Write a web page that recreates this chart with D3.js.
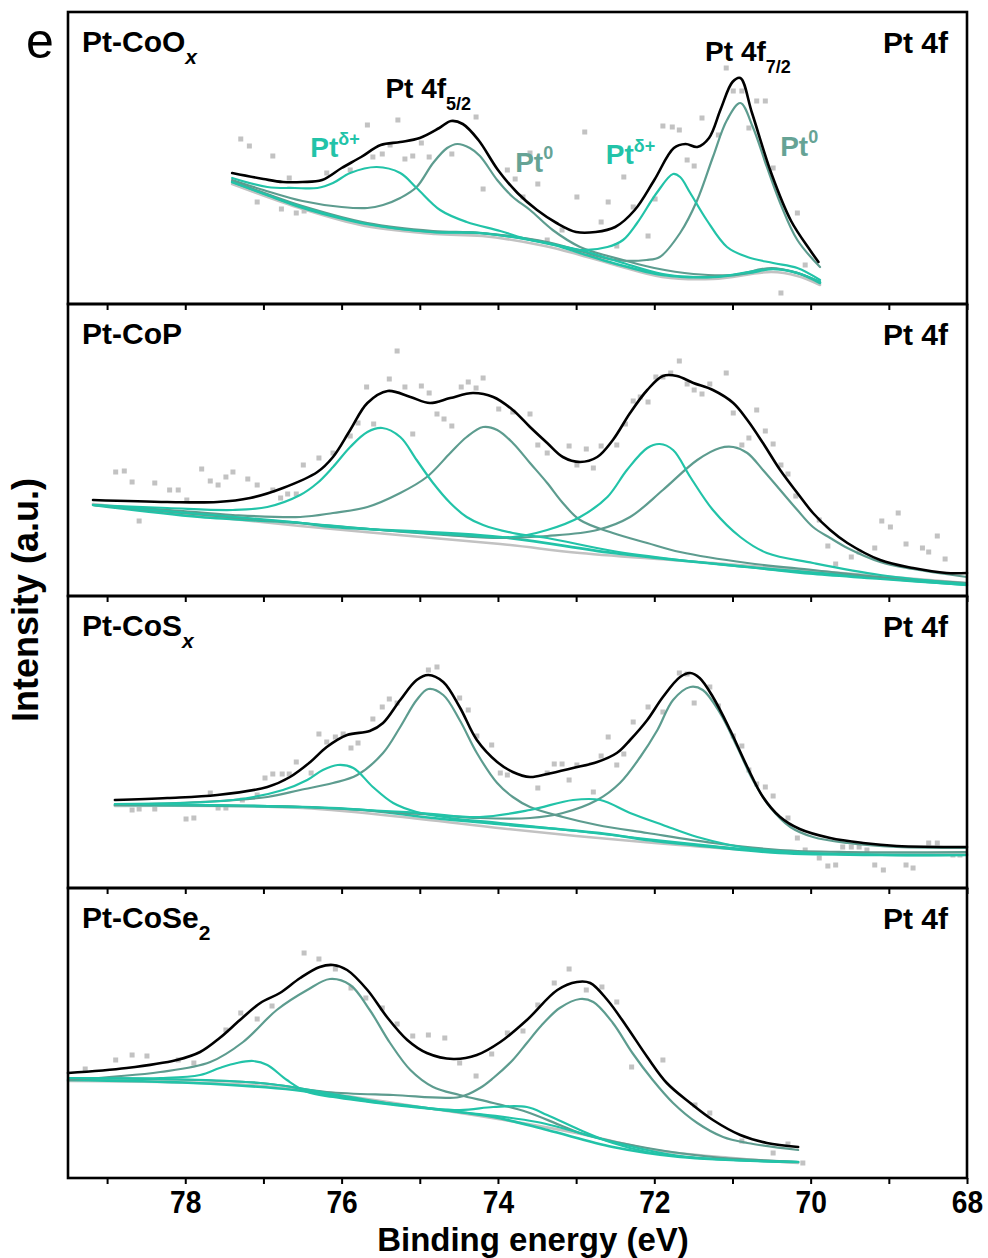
<!DOCTYPE html>
<html lang="en">
<head>
<meta charset="UTF-8">
<title>Pt 4f XPS</title>
<script src="https://cdn.jsdelivr.net/npm/d3@7"></script>
<style>
  body { margin: 0; background: #fff; }
  svg { display: block; font-family: "Liberation Sans", Arial, sans-serif; }
  .frame { fill: none; stroke: #000; stroke-width: 2.6; }
  .tick line { stroke: #000; stroke-width: 2; }
  .curve { fill: none; stroke-linejoin: round; stroke-linecap: round; }
</style>
</head>
<body>
<svg width="988" height="1258"></svg>
<script>
  // ---- data: [binding energy (eV), intensity (a.u.)] ----
  // panel 1 : Pt-CoOx
  const env1 = [[77.4,131],[77.0,125],[76.75,122],[76.5,122],[76.25,124],[76.0,136],[75.75,147],[75.5,159],[75.25,162],[75.0,166],[74.75,176],[74.6,183],[74.45,180],[74.25,164],[74.0,134],[73.75,111],[73.5,94],[73.25,81],[73.0,72],[72.75,72],[72.5,77],[72.25,94],[72.0,124],[71.75,156],[71.6,160],[71.45,157],[71.3,166],[71.15,195],[71.0,222],[70.9,226],[70.75,191],[70.5,130],[70.25,83],[70.0,53],[69.9,42]];
  const pt0a1 = [[77.4,124],[77.0,114],[76.5,103],[76.0,97],[75.67,96],[75.47,99],[75.25,106],[75.04,117],[74.83,141],[74.65,156],[74.52,160],[74.36,156],[74.23,148],[74.01,124],[73.81,107],[73.59,94],[73.3,74],[72.95,57],[72.73,51],[72.4,44],[72.0,36],[71.5,30],[71.0,29],[70.5,36],[70.17,31],[69.88,22]];
  const pt0b1 = [[77.4,123],[76.95,110],[76.5,98],[75.67,81],[74.83,73],[74.23,71],[73.37,62],[72.95,53],[72.5,44],[72.1,44],[71.93,47],[71.67,71],[71.45,104],[71.25,147],[71.07,184],[70.9,201],[70.74,177],[70.56,137],[70.39,101],[70.17,64],[69.88,37]];
  const dpa1 = [[77.4,126],[76.95,117],[76.6,116],[76.31,116],[76.11,121],[75.89,131],[75.55,137],[75.25,131],[75.04,116],[74.74,94],[74.4,82],[73.97,73],[73.59,64],[72.95,54],[72.44,42],[71.89,30],[71.25,27],[70.48,35],[70.17,31],[69.88,22]];
  const dpb1 = [[77.4,122],[76.95,109],[76.5,97],[75.67,80],[74.83,72],[74.23,71],[73.37,61],[72.95,54],[72.6,57],[72.4,64],[72.22,81],[71.97,111],[71.76,130],[71.67,127],[71.54,111],[71.33,84],[71.07,57],[70.81,47],[70.48,41],[70.17,36],[69.88,24]];
  const bg1 = [[77.4,122],[76.95,109],[76.53,97],[76.27,91],[75.67,80],[74.83,72],[74.23,71],[73.37,61],[72.95,51],[72.53,41],[71.89,29],[71.25,27],[70.8,31],[70.48,35],[70.17,31],[69.88,21]];
  const bgGrey1 = [[77.4,120],[76.5,95],[75.7,78],[74.8,70],[74.2,68],[73.4,58],[72.95,49],[72.5,39],[71.9,27],[71.25,25],[70.5,32],[70.17,28],[69.88,19]];
  const pts1 = [[77.29,165],[77.18,158],[77.08,102],[76.88,148],[76.77,95],[76.67,126],[76.58,91],[76.48,93],[76.19,131],[75.89,134],[75.67,179],[75.6,147],[75.48,150],[75.38,159],[75.28,184],[75.19,145],[75.09,148],[74.98,161],[74.88,147],[74.59,150],[74.28,187],[74.19,115],[73.88,134],[73.78,125],[73.68,107],[73.59,151],[73.49,120],[73.37,64],[73.18,74],[72.99,107],[72.89,172],[72.68,82],[72.59,102],[72.48,58],[72.39,127],[72.27,97],[72.08,68],[71.99,105],[71.89,178],[71.77,177],[71.68,174],[71.58,144],[71.49,138],[71.39,186],[71.18,169],[71.08,236],[70.99,213],[70.88,213],[70.79,176],[70.69,203],[70.58,203],[70.48,136],[70.17,91],[70.07,39],[70.38,11]];

  // panel 2 : Pt-CoP
  const env2 = [[79.18,96],[78.23,94],[77.59,94],[77.17,98],[76.75,108],[76.31,124],[76.11,139],[75.89,166],[75.67,193],[75.41,205],[75.12,199],[74.87,193],[74.61,198],[74.32,203],[74.06,199],[73.81,186],[73.59,169],[73.37,153],[73.17,139],[72.95,134],[72.73,139],[72.53,156],[72.31,183],[72.09,206],[71.89,220],[71.71,220],[71.5,213],[71.25,206],[70.99,193],[70.81,176],[70.61,153],[70.39,126],[70.17,103],[69.97,83],[69.75,66],[69.53,53],[69.11,36],[68.69,28],[68.26,23],[68.0,23]];
  const pt0a2 = [[79.18,91],[78.2,86],[77.39,81],[76.53,79],[76.11,83],[75.67,89],[75.25,103],[74.91,119],[74.61,143],[74.4,159],[74.19,169],[74.01,166],[73.81,153],[73.59,133],[73.37,113],[73.17,93],[72.95,76],[72.53,63],[72.09,53],[71.67,44],[70.81,33],[69.97,26],[69.11,19],[68.0,13]];
  const pt0b2 = [[79.18,91],[77.0,76],[75.5,66],[74.5,60],[73.97,58],[73.37,60],[72.73,66],[72.31,79],[71.89,106],[71.45,136],[71.16,148],[70.99,149],[70.81,143],[70.61,126],[70.39,106],[70.17,86],[69.97,69],[69.75,58],[69.53,48],[69.11,34],[68.69,27],[68.0,19]];
  const dpa2 = [[79.18,91],[78.23,88],[77.39,86],[76.95,89],[76.53,101],[76.31,113],[76.11,129],[75.89,149],[75.67,164],[75.48,168],[75.25,159],[75.04,136],[74.83,113],[74.61,93],[74.4,79],[74.19,71],[73.81,63],[73.37,58],[72.53,45],[71.67,36],[70.81,29],[69.97,22],[69.11,17],[68.0,11]];
  const dpb2 = [[79.18,91],[77.5,80],[76.5,73],[75.5,66],[74.5,61],[73.81,59],[73.37,66],[72.95,79],[72.6,99],[72.35,126],[72.09,148],[71.93,152],[71.76,146],[71.54,119],[71.25,86],[70.9,59],[70.56,43],[69.97,33],[69.11,21],[68.0,12]];
  const bg2 = [[79.18,91],[77.81,79],[76.53,73],[76.11,69],[73.97,59],[72.53,43],[70.81,29],[69.11,18],[68.0,11]];
  const bgGrey2 = [[79.18,92],[76.53,70],[73.97,52],[72.95,43],[71.25,33],[68.0,13]];
  const pts2 = [[78.89,124],[78.78,125],[78.68,114],[78.59,75],[78.39,113],[78.2,106],[78.09,106],[77.98,96],[77.79,127],[77.68,115],[77.58,111],[77.48,119],[77.39,124],[77.2,117],[77.08,111],[76.88,106],[76.78,98],[76.69,102],[76.58,102],[76.49,131],[76.29,138],[76.11,143],[75.89,160],[75.79,173],[75.68,209],[75.59,172],[75.39,217],[75.29,245],[75.19,209],[75.09,162],[74.98,210],[74.88,203],[74.78,182],[74.69,177],[74.59,170],[74.47,209],[74.38,214],[74.28,208],[74.19,218],[73.99,187],[73.81,184],[73.59,182],[73.49,151],[73.37,143],[73.09,150],[72.99,131],[72.87,147],[72.78,128],[72.68,150],[72.48,151],[72.37,172],[72.27,195],[72.18,199],[72.08,194],[71.98,219],[71.89,219],[71.79,223],[71.68,235],[71.58,212],[71.49,206],[71.39,202],[71.29,212],[71.08,223],[70.99,183],[70.88,151],[70.79,158],[70.69,186],[70.58,165],[70.48,152],[70.38,131],[70.29,122],[70.19,100],[69.89,76],[69.78,50],[69.68,32],[69.48,39],[69.38,44],[69.18,48],[69.09,75],[68.98,69],[68.88,83],[68.78,52],[68.57,48],[68.49,44],[68.38,60],[68.28,37]];

  // panel 3 : Pt-CoSx
  const env3 = [[78.9,88],[78.23,90],[77.59,93],[76.95,101],[76.66,111],[76.4,126],[76.19,141],[75.93,153],[75.64,157],[75.47,165],[75.25,188],[75.04,208],[74.89,213],[74.7,206],[74.49,181],[74.27,148],[74.01,126],[73.81,116],[73.59,111],[73.37,114],[73.04,120],[72.73,126],[72.48,135],[72.31,148],[72.09,168],[71.89,191],[71.67,211],[71.54,215],[71.42,210],[71.25,191],[71.03,158],[70.81,121],[70.61,91],[70.39,71],[70.14,59],[69.75,50],[69.33,45],[68.9,42],[68.0,41]];
  const pt0a3 = [[78.9,83],[77.81,86],[76.95,91],[76.53,98],[76.11,105],[75.8,113],[75.47,135],[75.25,161],[75.04,188],[74.89,199],[74.7,193],[74.49,168],[74.27,135],[74.01,105],[73.81,91],[73.59,81],[73.17,71],[72.73,63],[72.09,55],[71.25,45],[70.39,38],[69.53,36],[68.0,36]];
  const pt0b3 = [[78.9,83],[76.5,81],[75.0,74],[74.23,70],[73.59,70],[73.17,75],[72.73,88],[72.44,105],[72.18,131],[71.96,158],[71.76,188],[71.54,201],[71.38,198],[71.16,175],[70.94,141],[70.74,108],[70.52,81],[70.26,61],[69.97,51],[69.53,45],[68.9,41],[68.0,40]];
  const dpa3 = [[78.9,84],[77.39,88],[76.75,98],[76.44,108],[76.24,118],[76.05,123],[75.85,120],[75.6,101],[75.34,85],[75.04,76],[74.61,70],[73.97,65],[73.0,57],[72.1,49],[71.25,42],[70.4,36],[69.1,33],[68.0,33]];
  const dpb3 = [[78.9,84],[76.5,81],[75.0,75],[74.23,71],[73.59,78],[73.04,88],[72.69,88],[72.31,75],[71.89,63],[71.45,51],[70.81,40],[69.97,35],[68.0,33]];
  const bg3 = [[78.9,83],[76.5,81],[75.7,78],[74.83,70],[74.0,64],[72.7,55],[72.1,48],[71.25,41],[70.4,35],[69.1,33],[68.0,33]];
  const bgGrey3 = [[78.9,82],[76.5,80],[75.0,69],[74.0,60],[73.0,52],[72.0,45],[71.0,39],[70.0,35],[68.0,34]];
  const pts3 = [[78.68,78],[78.59,79],[78.39,79],[77.99,69],[77.89,70],[77.68,95],[77.58,80],[77.48,80],[77.27,88],[77.08,93],[76.98,110],[76.88,114],[76.76,114],[76.67,114],[76.58,126],[76.39,115],[76.29,154],[76.19,146],[76.08,151],[75.98,154],[75.88,140],[75.79,145],[75.6,169],[75.48,181],[75.39,189],[75.29,185],[74.89,218],[74.78,221],[74.49,190],[74.38,178],[74.27,152],[74.08,143],[73.97,115],[73.88,113],[73.49,100],[73.37,115],[73.28,124],[73.18,124],[73.09,108],[72.99,123],[72.78,96],[72.68,132],[72.59,151],[72.48,123],[72.39,134],[72.27,166],[72.08,181],[71.89,176],[71.68,215],[71.58,214],[71.49,185],[71.29,201],[71.18,182],[70.99,152],[70.88,142],[70.79,118],[70.69,104],[70.58,101],[70.48,92],[70.29,70],[70.17,50],[70.07,38],[69.89,30],[69.78,22],[69.68,23],[69.59,41],[69.48,41],[69.38,41],[69.28,38],[69.18,23],[69.07,18],[68.78,23],[68.69,20],[68.49,45],[68.38,45],[68.18,33],[68.09,33]];

  // panel 4 : Pt-CoSe2
  const env4 = [[79.5,105],[78.75,110],[78.11,118],[77.81,126],[77.56,140],[77.3,158],[77.04,175],[76.79,185],[76.53,200],[76.28,211],[76.11,213],[75.93,208],[75.67,188],[75.42,161],[75.16,138],[74.91,125],[74.57,119],[74.27,123],[73.97,136],[73.63,158],[73.24,188],[72.99,196],[72.82,195],[72.6,178],[72.35,151],[72.09,121],[71.84,95],[71.54,75],[71.25,58],[70.9,43],[70.56,35],[70.16,31]];
  const pt0a4 = [[79.5,98],[78.32,106],[77.68,116],[77.26,136],[76.83,168],[76.44,188],[76.15,199],[75.89,193],[75.64,168],[75.38,135],[75.12,108],[74.83,91],[74.49,83],[74.06,75],[73.63,66],[73.21,53],[72.95,45],[72.09,30],[71.25,21],[70.16,16]];
  const pt0b4 = [[79.5,100],[77.04,95],[76.19,86],[75.34,83],[74.49,81],[74.23,90],[74.06,100],[73.81,118],[73.63,135],[73.45,152],[73.21,170],[72.95,179],[72.78,176],[72.53,155],[72.28,125],[72.02,98],[71.76,75],[71.45,55],[71.12,41],[70.81,35],[70.16,28]];
  const dpa4 = [[79.5,100],[78.32,100],[77.81,103],[77.56,110],[77.34,115],[77.13,117],[76.95,113],[76.7,98],[76.44,86],[76.11,81],[75.34,73],[74.49,66],[73.5,56],[72.53,36],[71.67,22],[70.16,16]];
  const dpb4 = [[79.5,100],[77.04,95],[76.11,84],[75.34,74],[74.49,68],[74.06,71],[73.63,71],[73.37,63],[72.95,48],[72.53,35],[72.09,26],[71.45,20],[70.16,16]];
  const bg4 = [[79.5,98],[77.9,95],[76.6,88],[75.76,78],[74.91,70],[74.06,61],[73.37,48],[72.53,31],[71.67,21],[70.16,16]];
  const bgGrey4 = [[79.5,97],[77.0,92],[75.0,71],[74.0,59],[73.0,45],[72.0,28],[71.0,20],[70.16,15]];
  const pts4 = [[79.28,109],[78.89,118],[78.68,123],[78.49,122],[78.09,118],[77.89,115],[77.48,148],[77.29,165],[77.08,159],[76.89,172],[76.48,225],[76.29,219],[76.08,209],[75.88,190],[75.69,180],[75.48,170],[75.29,154],[75.09,142],[74.89,143],[74.68,140],[74.49,115],[74.28,102],[74.08,124],[73.88,145],[73.68,147],[73.49,173],[73.28,195],[73.09,209],[72.87,188],[72.67,191],[72.48,176],[72.29,111],[71.89,118],[71.48,73],[71.29,65],[70.88,37],[70.48,25],[70.29,34],[70.1,15]];

  const sampleNames = ["Pt-CoO", "Pt-CoP", "Pt-CoS", "Pt-CoSe"];
  const sampleSubs = ["x", "", "x", "2"];
  const xTicks = d3.range(68, 80);        // 68 ... 79 eV
  const xLabelTicks = [78, 76, 74, 72, 70, 68];

  // ---- layout ----
  const colBlack = "#000000", colTeal = "#22c3a8", colSage = "#5d9c8f", colGrey = "#c2c2c2";
  const left = 68, right = 967;
  const tops = [12, 304, 596, 888];
  const bottoms = [304, 596, 888, 1178];

  const svg = d3.select("svg");

  const x = d3.scaleLinear().domain([79.5, 68]).range([left, right]);

  const panels = [
    { env: env1, pt0a: pt0a1, pt0b: pt0b1, dpa: dpa1, dpb: dpb1, bg: bg1, bgGrey: bgGrey1, pts: pts1 },
    { env: env2, pt0a: pt0a2, pt0b: pt0b2, dpa: dpa2, dpb: dpb2, bg: bg2, bgGrey: bgGrey2, pts: pts2 },
    { env: env3, pt0a: pt0a3, pt0b: pt0b3, dpa: dpa3, dpb: dpb3, bg: bg3, bgGrey: bgGrey3, pts: pts3 },
    { env: env4, pt0a: pt0a4, pt0b: pt0b4, dpa: dpa4, dpb: dpb4, bg: bg4, bgGrey: bgGrey4, pts: pts4 }
  ];

  let yFirst = null;

  panels.forEach((p, i) => {
    const top = tops[i], bottom = bottoms[i];
    const y = d3.scaleLinear().domain([0, bottom - top]).range([bottom, top]);
    if (i === 0) yFirst = y;
    const g = svg.append("g");

    const line = d3.line()
      .x(d => x(d[0]))
      .y(d => y(d[1]))
      .curve(d3.curveCatmullRom.alpha(0.5));

    // raw data points
    g.selectAll("rect.pt").data(p.pts).join("rect")
      .attr("class", "pt")
      .attr("x", d => x(d[0]) - 2.5)
      .attr("y", d => y(d[1]) - 2.5)
      .attr("width", 5).attr("height", 5)
      .attr("fill", colGrey);

    const curves = [
      { d: p.bgGrey, c: colGrey, w: 2.6 },
      { d: p.bg, c: colTeal, w: 2.6 },
      { d: p.pt0a, c: colSage, w: 2.2 },
      { d: p.pt0b, c: colSage, w: 2.2 },
      { d: p.dpa, c: colTeal, w: 2.2 },
      { d: p.dpb, c: colTeal, w: 2.2 },
      { d: p.env, c: colBlack, w: 2.6 }
    ];
    curves.forEach(cv => {
      g.append("path").attr("class", "curve")
        .attr("d", line(cv.d))
        .attr("stroke", cv.c)
        .attr("stroke-width", cv.w);
    });

    // bottom axis of each panel (ticks pointing down)
    const axis = d3.axisBottom(x).tickValues(xTicks).tickSize(6).tickPadding(6)
      .tickFormat(d => (i === 3 && xLabelTicks.includes(d)) ? d : "");
    const ax = svg.append("g").attr("transform", `translate(0,${bottom})`).call(axis);
    ax.select(".domain").remove();
    ax.selectAll("text")
      .attr("font-size", 32).attr("font-weight", "bold").attr("fill", "#000")
      .attr("font-family", "'Liberation Sans', Arial, sans-serif")
      .attr("transform", "scale(0.88,1)");

    // frame
    svg.append("rect").attr("class", "frame")
      .attr("x", left).attr("y", top)
      .attr("width", right - left).attr("height", bottom - top);

    // sample name
    const nm = svg.append("text")
      .attr("x", 82).attr("y", top + 40)
      .attr("font-size", 30).attr("font-weight", "bold");
    nm.append("tspan").text(sampleNames[i]);
    if (sampleSubs[i]) {
      nm.append("tspan").attr("dy", 12).attr("font-size", 21)
        .attr("font-style", sampleSubs[i] === "x" ? "italic" : "normal")
        .text(sampleSubs[i]);
    }

    svg.append("text")
      .attr("x", 948).attr("y", top + 41)
      .attr("text-anchor", "end")
      .attr("font-size", 30).attr("font-weight", "bold")
      .text("Pt 4f");
  });

  // annotations of panel 1 (anchored in data coordinates)
  const notes = [
    { e: 75.44, v: 206, main: "Pt 4f", small: "5/2", dy: 12, col: colBlack },
    { e: 71.35, v: 243, main: "Pt 4f", small: "7/2", dy: 12, col: colBlack },
    { e: 76.4, v: 147, main: "Pt", small: "\u03b4+", dy: -12, col: colTeal },
    { e: 73.78, v: 132, main: "Pt", small: "0", dy: -13, col: "#66a395" },
    { e: 72.62, v: 140, main: "Pt", small: "\u03b4+", dy: -12, col: colTeal },
    { e: 70.39, v: 148, main: "Pt", small: "0", dy: -13, col: "#66a395" }
  ];
  notes.forEach(n => {
    const t = svg.append("text")
      .attr("x", x(n.e)).attr("y", yFirst(n.v))
      .attr("font-size", 28).attr("font-weight", "bold")
      .attr("fill", n.col);
    t.append("tspan").text(n.main);
    t.append("tspan").attr("dy", n.dy).attr("font-size", 18).text(n.small);
  });

  // panel letter
  svg.append("text").attr("x", 26).attr("y", 58)
    .attr("font-size", 50).text("e");

  // axis titles
  svg.append("text")
    .attr("x", 533).attr("y", 1251)
    .attr("text-anchor", "middle")
    .attr("font-size", 33).attr("font-weight", "bold")
    .text("Binding energy (eV)");

  svg.append("text")
    .attr("transform", "translate(38,600) rotate(-90)")
    .attr("text-anchor", "middle")
    .attr("font-size", 36).attr("font-weight", "bold")
    .text("Intensity (a.u.)");
</script>
</body>
</html>
